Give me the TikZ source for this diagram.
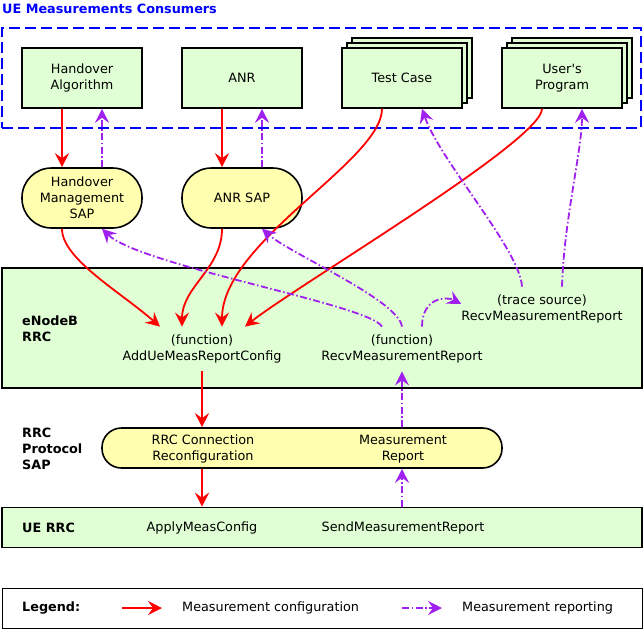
\documentclass[tikz,border=0pt]{standalone}
\usepackage{fontspec}
\setmainfont{DejaVu Sans}
\usetikzlibrary{arrows.meta,shadows}

\definecolor{boxgreen}{RGB}{224,255,212}
\definecolor{sapyellow}{RGB}{255,255,175}
\definecolor{reportpurple}{RGB}{160,32,240}

\begin{document}
\begin{tikzpicture}[x=1pt,y=-1pt,
    every node/.style={font=\fontsize{12.8}{16}\selectfont},
    block/.style={draw,line width=1.6pt,fill=boxgreen,minimum width=120pt,minimum height=60pt,align=center},
    stacked/.style={copy shadow={shadow xshift=10pt,shadow yshift=10pt,fill=boxgreen,draw=black,line width=1.6pt},
                    copy shadow={shadow xshift=5pt,shadow yshift=5pt,fill=boxgreen,draw=black,line width=1.6pt}},
    sap/.style={draw,line width=1.6pt,fill=sapyellow,rounded corners=29.5pt,minimum width=120pt,minimum height=60pt,align=center},
    rrcbox/.style={draw,line width=1.6pt,fill=boxgreen,minimum width=640pt},
    fn/.style={align=center,inner xsep=0pt,inner ysep=8pt},
    lbl/.style={anchor=west,align=left,inner sep=0pt,font=\fontsize{12.8}{16}\selectfont\bfseries},
    config/.style={red,line width=1.8pt,-{Stealth[length=14pt,width=14pt,inset=5pt]}},
    report/.style={reportpurple,line width=1.8pt,dash pattern=on 7pt off 2.5pt on 1.5pt off 2.5pt,-{Stealth[length=14pt,width=14pt,inset=5pt]}}]
    \useasboundingbox (0,0) rectangle (644,629);

    \node[lbl,text=blue] (consumersTitle) at (2,9) {UE Measurements Consumers};
    \node[draw=blue,line width=2pt,dash pattern=on 11pt off 5pt,minimum width=639pt,minimum height=100pt] (consumers) at (321.5,78) {};

    \node[block] (hoAlgo) at (82,78) {Handover\\Algorithm};
    \node[block] (anr) at (242,78) {ANR};
    \node[block,stacked] (testCase) at (402,78) {Test Case};
    \node[block,stacked] (userProg) at (562,78) {User\textquotesingle s\\Program};

    \node[sap] (hoSap) at (82,198) {Handover\\Management\\SAP};
    \node[sap] (anrSap) at (242,198) {ANR SAP};

    \node[rrcbox,minimum height=120pt] (enbRrc) at (322,328) {};
    \node[lbl] (enbLabel) at (22,329) {eNodeB\\RRC};
    \node[fn] (addFn) at (202,349) {(function)\\AddUeMeasReportConfig};
    \node[fn] (recvFn) at (402,349) {(function)\\RecvMeasurementReport};
    \node[fn] (traceSrc) at (542,309) {(trace source)\\RecvMeasurementReport};

    \node[lbl] (protoLabel) at (22,449) {RRC\\Protocol\\SAP};
    \node[sap,minimum width=400pt,minimum height=40pt,rounded corners=19.5pt] (protoSap) at (302,448) {};
    \node[fn,inner ysep=0pt] (reconf) at (203,449) {RRC Connection\\Reconfiguration};
    \node[fn,inner ysep=0pt] (measRep) at (403,449) {Measurement\\Report};

    \node[rrcbox,minimum height=40pt] (ueRrc) at (322,527.5) {};
    \node[lbl] (ueLabel) at (22,528) {UE RRC};
    \node (applyFn) at (202,528) {ApplyMeasConfig};
    \node (sendFn) at (403,528) {SendMeasurementReport};

    \node[draw,line width=1pt,minimum width=640pt,minimum height=40pt] (legend) at (322,608) {};
    \node[lbl] (legendLabel) at (22,608) {Legend:};
    \coordinate (cfgStart) at (122,608);
    \coordinate (cfgEnd) at (162,608);
    \coordinate (repStart) at (402,608);
    \coordinate (repEnd) at (442,608);
    \node[anchor=west,inner sep=0pt] (cfgText) at (182,608) {Measurement configuration};
    \node[anchor=west,inner sep=0pt] (repText) at (462,608) {Measurement reporting};

    \draw[config] ([xshift=-20pt]hoAlgo.south) -- ([xshift=-20pt]hoSap.north);
    \draw[report] ([xshift=20pt]hoSap.north) -- ([xshift=20pt]hoAlgo.south);
    \draw[config] ([xshift=-20pt]anr.south) -- ([xshift=-20pt]anrSap.north);
    \draw[report] ([xshift=20pt]anrSap.north) -- ([xshift=20pt]anr.south);

    \draw[config] ([xshift=-20pt]hoSap.south) .. controls +(0,30) and +(-40,-35) .. ([xshift=-42pt]addFn.north);
    \draw[config] ([xshift=-20pt]anrSap.south) .. controls +(0,40) and +(0,-40) .. ([xshift=-20pt]addFn.north);
    \draw[config] ([xshift=-20pt]testCase.south) .. controls +(0,52) and +(0,-85) .. ([xshift=20pt]addFn.north);
    \draw[config] ([xshift=-20pt]userProg.south) .. controls +(0,32) and +(50,-40) .. ([xshift=43pt]addFn.north);

    \draw[report] ([xshift=-20pt]recvFn.north) .. controls +(-12,-22) and +(38,37) .. ([xshift=20pt]hoSap.south);
    \draw[report] (recvFn.north) .. controls +(-4,-27) and +(28,25) .. ([xshift=20pt]anrSap.south);
    \draw[report] ([xshift=20pt]recvFn.north) .. controls +(0,-29) and +(-15,-8) .. ([yshift=5pt]traceSrc.west);
    \draw[report] ([xshift=-20pt]traceSrc.north) .. controls +(-2,-37) and +(18,52) .. ([xshift=20pt]testCase.south);
    \draw[report] ([xshift=20pt]traceSrc.north) .. controls +(2,-67) and +(0,42) .. ([xshift=20pt]userProg.south);

    \draw[config] (addFn.south) -- ([xshift=-100pt]protoSap.north);
    \draw[config] ([xshift=-100pt]protoSap.south) -- ([xshift=-120pt]ueRrc.north);
    \draw[report] ([xshift=80pt]ueRrc.north) -- ([xshift=100pt]protoSap.south);
    \draw[report] ([xshift=100pt]protoSap.north) -- (recvFn.south);

    \draw[config] (cfgStart) -- (cfgEnd);
    \draw[report] (repStart) -- (repEnd);
\end{tikzpicture}
\end{document}
